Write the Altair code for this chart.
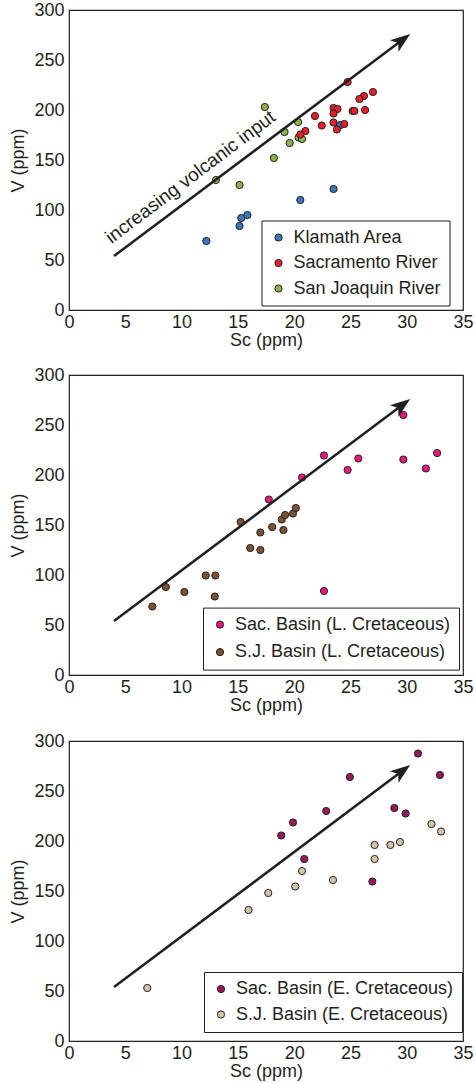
import altair as alt
import pandas as pd

# ---------------- data ----------------
# Panel 1: modern river sands
klamath_sc = [12.2, 15.15, 15.3, 15.85, 20.55, 23.5, 24.1]
klamath_v = [69, 84, 92, 95, 110, 121, 185]
sac_sc = [24.75, 27.0, 26.2, 25.8, 23.5, 23.85, 25.2, 25.35, 26.3, 23.5, 21.85,
          22.45, 23.5, 23.8, 24.45, 21.0, 20.55]
sac_v = [228, 218, 214, 211, 202, 201, 199, 199, 200, 196.5, 194,
         184.5, 187.5, 180.5, 186, 179, 175.5]
sj_sc = [13.05, 15.15, 17.4, 18.2, 19.15, 19.6, 20.35, 20.4, 20.7]
sj_v = [130, 125, 203, 152, 178, 167, 188, 172.5, 171]

# Panel 2: Late Cretaceous
sacL_sc = [29.7, 32.7, 29.7, 31.7, 25.7, 24.75, 22.65, 20.7, 17.75, 22.65]
sacL_v = [260, 222, 215.5, 206.5, 216.5, 205, 219.5, 197.5, 175.5, 84]
sjL_sc = [7.4, 8.6, 10.25, 12.15, 13.0, 12.95, 15.25, 16.1, 17.0, 17.0, 18.05,
          19.05, 18.9, 19.2, 19.9, 20.15]
sjL_v = [68.5, 88, 83, 99.5, 99.5, 78.5, 153, 127, 125, 142.5, 148,
         145, 155.5, 160, 161.5, 167]

# Panel 3: Early Cretaceous
sacE_sc = [31.0, 32.95, 24.95, 22.85, 28.9, 29.9, 19.9, 18.85, 20.9, 26.95]
sacE_v = [287.5, 266, 264, 230, 233, 227.5, 218.5, 205.5, 182, 159.5]
sjE_sc = [6.95, 15.95, 17.7, 20.1, 20.7, 23.45, 27.15, 27.15, 28.55, 29.4, 32.2, 33.05]
sjE_v = [53, 131, 148, 154.5, 170, 161, 182, 196, 196, 199, 217, 209.5]

# Arrow (line start / line end, head drawn at end)
arrow_sc = [4.0, 29.6]
arrow_v = [54.0, 270.0]
arrow_label = "increasing volcanic input"

x_ticks = [0, 5, 10, 15, 20, 25, 30, 35]
y_ticks = [0, 50, 100, 150, 200, 250, 300]

panel1_names = ["Klamath Area", "Sacramento River", "San Joaquin River"]
panel1_colors = ["#3b77bf", "#e6202a", "#8cb34b"]
panel2_names = ["Sac. Basin (L. Cretaceous)", "S.J. Basin (L. Cretaceous)"]
panel2_colors = ["#e8197a", "#7b5231"]
panel3_names = ["Sac. Basin (E. Cretaceous)", "S.J. Basin (E. Cretaceous)"]
panel3_colors = ["#961a5d", "#d5c3a6"]

INK = "#231f20"
FONT = "Liberation Sans"
W, H = 394, 300


def frame(groups):
    rows = []
    for name, xs, ys in groups:
        for a, b in zip(xs, ys):
            rows.append({"sc": a, "v": b, "group": name})
    return pd.DataFrame(rows)


xenc = alt.X("sc:Q", scale=alt.Scale(domain=[0, 35], nice=False, zero=False),
             axis=alt.Axis(values=x_ticks, title="Sc (ppm)", labelPadding=3,
                           titlePadding=0, labelFlush=False))
yenc = alt.Y("v:Q", scale=alt.Scale(domain=[0, 300], nice=False, zero=False),
             axis=alt.Axis(values=y_ticks, title="V (ppm)", labelPadding=5,
                           titlePadding=6, labelFlush=False))

arrow_df = pd.DataFrame({"sc": arrow_sc, "v": arrow_v})
head_df = arrow_df.tail(1)
HEAD_PATH = "M0.5,0 L-0.5,-0.36 L-0.25,0 L-0.5,0.36 Z"


def panel(df, names, colors, lx, ly, row_pad, label=None):
    pts = alt.Chart(df).mark_circle(size=52, stroke=INK, strokeWidth=1, opacity=1).encode(
        x=xenc, y=yenc,
        fill=alt.Fill("group:N", scale=alt.Scale(domain=names, range=colors),
                      legend=alt.Legend(title=None, orient="none", legendX=lx, legendY=ly,
                                        strokeColor=INK, fillColor="white", padding=8,
                                        rowPadding=row_pad, labelFontSize=18, labelFont=FONT,
                                        labelColor=INK, symbolType="circle", symbolSize=52,
                                        symbolStrokeColor=INK, symbolStrokeWidth=1,
                                        labelOffset=6, labelLimit=400, symbolOpacity=1)),
    )
    line = alt.Chart(arrow_df).mark_line(color=INK, strokeWidth=2.5).encode(x=xenc, y=yenc)
    head = alt.Chart(head_df).mark_point(shape=HEAD_PATH, size=1600, angle=323,
                                         filled=True, color=INK, opacity=1,
                                         strokeWidth=0).encode(x=xenc, y=yenc)
    layers = [pts, line, head]
    if label:
        txt = alt.Chart(arrow_df.head(1)).mark_text(
            text=label, align="left", baseline="alphabetic", angle=323, dx=5, dy=-11,
            font=FONT, fontSize=19, color=INK).encode(x=xenc, y=yenc)
        layers.append(txt)
    return alt.layer(*layers).properties(width=W, height=H)


p1 = panel(frame([(panel1_names[0], klamath_sc, klamath_v),
                  (panel1_names[2], sj_sc, sj_v),
                  (panel1_names[1], sac_sc, sac_v)]),
           panel1_names, panel1_colors, 192.5, 210.5, 7.5, arrow_label)
p2 = panel(frame([(panel2_names[1], sjL_sc, sjL_v),
                  (panel2_names[0], sacL_sc, sacL_v)]),
           panel2_names, panel2_colors, 134, 232.6, 9.5)
p3 = panel(frame([(panel3_names[1], sjE_sc, sjE_v),
                  (panel3_names[0], sacE_sc, sacE_v)]),
           panel3_names, panel3_colors, 135, 231, 7.5)

top_pair = alt.vconcat(p1, p2, spacing=15).resolve_scale(fill="independent")
chart = alt.vconcat(top_pair, p3, spacing=16).resolve_scale(fill="independent").properties(
    padding={"left": 9, "top": 0, "right": 0, "bottom": 0},
    background="white",
).configure_view(stroke=INK, strokeWidth=1.2).configure_axis(
    labelFont=FONT, labelFontSize=18, labelColor=INK,
    titleFont=FONT, titleFontSize=18, titleFontWeight="normal", titleColor=INK,
    ticks=False, tickSize=0, domain=False, grid=False,
)

chart.save("out.html", embed_options={"renderer": "svg", "actions": False})
